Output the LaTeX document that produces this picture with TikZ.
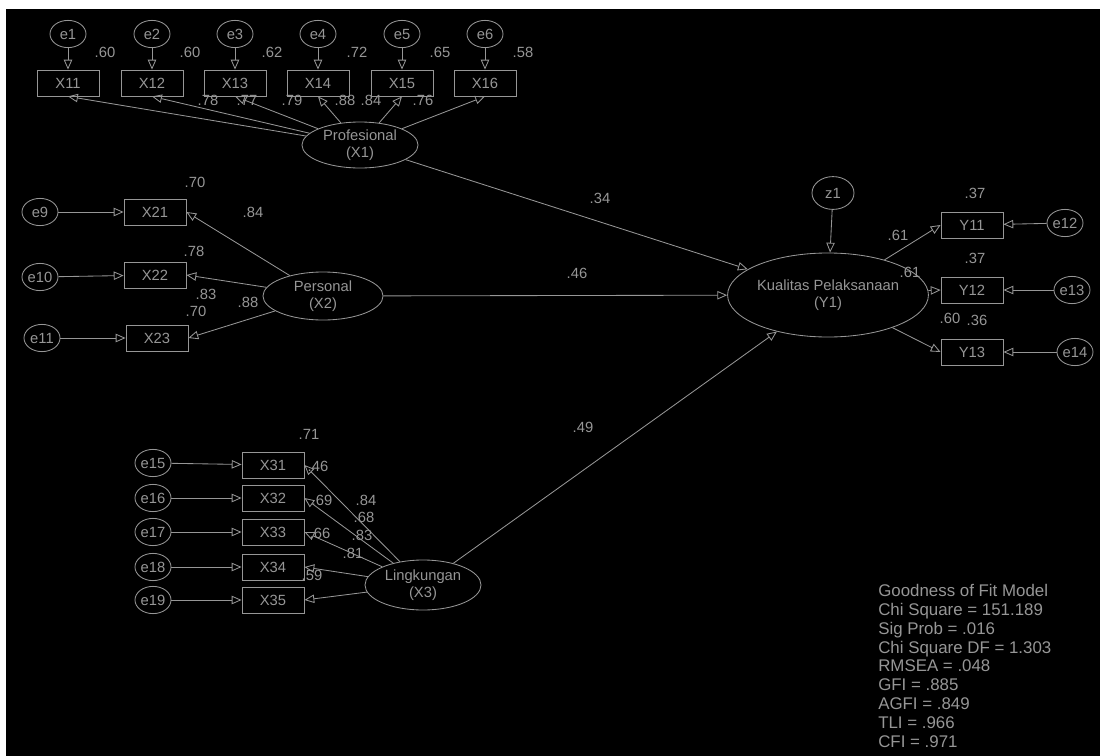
\documentclass[tikz,border=0pt]{standalone}
\usepackage{fontspec}
\setmainfont{Liberation Sans}
\usetikzlibrary{arrows.meta,shapes.geometric}
\definecolor{amosgray}{RGB}{150,150,150}

\begin{document}
\begin{tikzpicture}[x=0.025cm, y=-0.025cm, >={Triangle[open,length=7pt,width=6pt]},
  every node/.style={font=\fontsize{10.5}{12}\selectfont, text=amosgray},
  ind/.style={draw=amosgray, line width=0.6pt, minimum width=1.55cm, minimum height=0.65cm, inner sep=0pt},
  lat/.style={draw=amosgray, line width=0.6pt, ellipse, inner sep=0pt, align=center},
  err/.style={draw=amosgray, line width=0.6pt, ellipse, minimum width=0.9cm, minimum height=0.68cm, inner sep=0pt},
  lab/.style={inner sep=0pt},
  con/.style={draw=amosgray, line width=0.6pt}]
\useasboundingbox[fill=white] (0,0) rectangle (1100,756);
\fill[black] (6,9) rectangle (1100,756);

% Profesional
\node[lat, minimum width=2.9cm, minimum height=1.15cm] (prof) at (360,145) {Profesional\\(X1)};
\node[ind] (x11) at (68,83) {X11};
\node[ind] (x12) at (152,83) {X12};
\node[ind] (x13) at (235,83) {X13};
\node[ind] (x14) at (318,83) {X14};
\node[ind] (x15) at (402,83) {X15};
\node[ind] (x16) at (485,83) {X16};
\node[err] (e1) at (68,34) {e1};
\node[err] (e2) at (152,34) {e2};
\node[err] (e3) at (235,34) {e3};
\node[err] (e4) at (318,34) {e4};
\node[err] (e5) at (402,34) {e5};
\node[err] (e6) at (485,34) {e6};

% Personal
\node[lat, minimum width=3.0cm, minimum height=1.2cm] (pers) at (323,296) {Personal\\(X2)};
\node[ind] (x21) at (155,212) {X21};
\node[ind] (x22) at (155,275) {X22};
\node[ind] (x23) at (157,338) {X23};
\node[err] (e9) at (40,212) {e9};
\node[err] (e10) at (40,277) {e10};
\node[err] (e11) at (42,338) {e11};

% Lingkungan
\node[lat, minimum width=2.9cm, minimum height=1.25cm] (ling) at (423,585) {Lingkungan\\(X3)};
\node[ind] (x31) at (273,465) {X31};
\node[ind] (x32) at (273,498) {X32};
\node[ind] (x33) at (273,532) {X33};
\node[ind] (x34) at (273,567) {X34};
\node[ind] (x35) at (273,600) {X35};
\node[err] (e15) at (153,463) {e15};
\node[err] (e16) at (153,498) {e16};
\node[err] (e17) at (153,532) {e17};
\node[err] (e18) at (153,567) {e18};
\node[err] (e19) at (153,600) {e19};

% Kualitas Pelaksanaan
\node[lat, minimum width=4.75cm, minimum height=2.1cm] (kual) at (828,295) {Kualitas Pelaksanaan\\(Y1)};
\node[err, minimum width=1.05cm, minimum height=0.82cm] (z1) at (833,193) {z1};
\node[ind] (y11) at (972,225) {Y11};
\node[ind] (y12) at (972,290) {Y12};
\node[ind] (y13) at (972,352) {Y13};
\node[err] (e12) at (1065,223) {e12};
\node[err] (e13) at (1072,290) {e13};
\node[err] (e14) at (1075,352) {e14};

% errors
\draw[con,->] (e1) -- (x11);
\draw[con,->] (e2) -- (x12);
\draw[con,->] (e3) -- (x13);
\draw[con,->] (e4) -- (x14);
\draw[con,->] (e5) -- (x15);
\draw[con,->] (e6) -- (x16);
\draw[con,->] (e9) -- (x21);
\draw[con,->] (e10) -- (x22);
\draw[con,->] (e11) -- (x23);
\draw[con,->] (e15) -- (x31);
\draw[con,->] (e16) -- (x32);
\draw[con,->] (e17) -- (x33);
\draw[con,->] (e18) -- (x34);
\draw[con,->] (e19) -- (x35);
\draw[con,->] (e12) -- (y11);
\draw[con,->] (e13) -- (y12);
\draw[con,->] (e14) -- (y13);
\draw[con,->] (z1) -- (kual);

% loadings
\draw[con,->] (prof) -- (x11.south);
\draw[con,->] (prof) -- (x12.south);
\draw[con,->] (prof) -- (x13.south);
\draw[con,->] (prof) -- (x14.south);
\draw[con,->] (prof) -- (x15.south);
\draw[con,->] (prof) -- (x16.south);
\draw[con,->] (pers) -- (x21.east);
\draw[con,->] (pers) -- (x22.east);
\draw[con,->] (pers) -- (x23.east);
\draw[con,->] (ling) -- (x31.east);
\draw[con,->] (ling) -- (x32.east);
\draw[con,->] (ling) -- (x33.east);
\draw[con,->] (ling) -- (x34.east);
\draw[con,->] (ling) -- (x35.east);
\draw[con,->] (kual) -- (y11.west);
\draw[con,->] (kual) -- (y12.west);
\draw[con,->] (kual) -- (y13.west);

% structural paths
\draw[con,->] (prof) -- (kual);
\draw[con,->] (pers) -- (kual);
\draw[con,->] (ling) -- (kual);

% estimates
\node[lab] (r11) at (105,52) {.60};
\node[lab] (r12) at (190,52) {.60};
\node[lab] (r13) at (272,52) {.62};
\node[lab] (r14) at (357,52) {.72};
\node[lab] (r15) at (440,52) {.65};
\node[lab] (r16) at (523,52) {.58};
\node[lab] (l11) at (208,100) {.78};
\node[lab] (l12) at (247,100) {.77};
\node[lab] (l13) at (292,100) {.79};
\node[lab] (l14) at (345,100) {.88};
\node[lab] (l15) at (371,100) {.84};
\node[lab] (l16) at (423,100) {.76};

\node[lab] (r21) at (195,182) {.70};
\node[lab] (r22) at (194,251) {.78};
\node[lab] (r23) at (196,311) {.70};
\node[lab] (l21) at (253,212) {.84};
\node[lab] (l22) at (248,302) {.88};
\node[lab] (l23) at (206,294) {.83};

\node[lab] (r31) at (309,434) {.71};
\node[lab] (r32) at (318,466) {.46};
\node[lab] (r33) at (322,500) {.69};
\node[lab] (r34) at (320,533) {.66};
\node[lab] (r35) at (312,575) {.59};
\node[lab] (l31) at (366,500) {.84};
\node[lab] (l32) at (364,517) {.68};
\node[lab] (l33) at (362,535) {.83};
\node[lab] (l34) at (353,553) {.81};

\node[lab] (ry1) at (975,193) {.37};
\node[lab] (ry2) at (975,258) {.37};
\node[lab] (ry3) at (977,320) {.36};
\node[lab] (ly1) at (898,235) {.61};
\node[lab] (ly2) at (910,272) {.61};
\node[lab] (ly3) at (950,318) {.60};

\node[lab] (b1) at (600,198) {.34};
\node[lab] (b2) at (577,273) {.46};
\node[lab] (b3) at (583,427) {.49};

% fit
\node[lab, anchor=north west, align=left, font=\fontsize{12}{13.4}\selectfont] (fit) at (878,584)
  {Goodness of Fit Model\\Chi Square = 151.189\\Sig Prob = .016\\Chi Square DF = 1.303\\RMSEA = .048\\GFI = .885\\AGFI = .849\\TLI = .966\\CFI = .971};
\end{tikzpicture}
\end{document}
